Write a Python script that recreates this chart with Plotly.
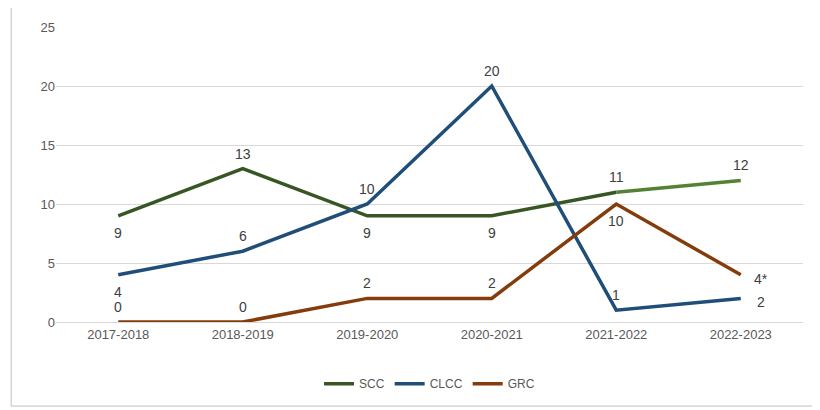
import plotly.graph_objects as go

years = ["2017-2018", "2018-2019", "2019-2020", "2020-2021", "2021-2022", "2022-2023"]
scc = [9, 13, 9, 9, 11, 12]
clcc = [4, 6, 10, 20, 1, 2]
grc = [0, 0, 2, 2, 10, 4]
grc_labels = ["0", "0", "2", "2", "10", "4*"]
scc_pos = ["b", "t", "b", "b", "t", "t"]
clcc_pos = ["b", "t", "t", "t", "t", "r"]
grc_pos = ["t", "t", "t", "t", "b", "r"]

fig = go.Figure()
lw = 3.5
fig.add_trace(go.Scatter(x=years[:5], y=scc[:5], mode="lines", name="SCC",
                         line=dict(color="#375623", width=lw)))
fig.add_trace(go.Scatter(x=years[4:], y=scc[4:], mode="lines", showlegend=False,
                         line=dict(color="#548235", width=lw)))
fig.add_trace(go.Scatter(x=years, y=clcc, mode="lines", name="CLCC",
                         line=dict(color="#1F4E79", width=lw)))
fig.add_trace(go.Scatter(x=years, y=grc, mode="lines", name="GRC",
                         line=dict(color="#843C0C", width=lw)))
tf = dict(size=14, color="#404040", family="Liberation Sans")
anns = []
for vals, txt, pos in [(scc, [str(v) for v in scc], scc_pos),
                       (clcc, [str(v) for v in clcc], clcc_pos),
                       (grc, grc_labels, grc_pos)]:
    for x, v, t, p in zip(years, vals, txt, pos):
        sh = dict(t=(0, 15), b=(0, -17), r=(20, -4))[p]
        anns.append(dict(x=x, y=v, text=t, showarrow=False, font=tf,
                         xshift=sh[0], yshift=sh[1]))

fig.update_layout(
    width=820, height=410, paper_bgcolor="white", plot_bgcolor="white",
    margin=dict(l=48, r=25, t=19, b=96),
    font=dict(family="Liberation Sans", color="#595959", size=13),
    showlegend=True, annotations=anns,
    legend=dict(orientation="h", x=0.5, xanchor="center", y=-0.16, yanchor="top",
                font=dict(size=12, color="#595959")),
    xaxis=dict(showgrid=False, showline=True, linecolor="#d9d9d9", ticks="",
               range=[-0.5, 5.5], tickfont=dict(size=13)),
    yaxis=dict(range=[0, 25], dtick=5, gridcolor="#d9d9d9", zeroline=False,
               showline=False, tickfont=dict(size=13)),
    shapes=[dict(type="rect", xref="paper", yref="paper", x0=-0.06, x1=1.027, y0=-0.285, y1=1.075,
                 line=dict(color="#bfbfbf", width=1))],
)
fig.write_html("out.html")
